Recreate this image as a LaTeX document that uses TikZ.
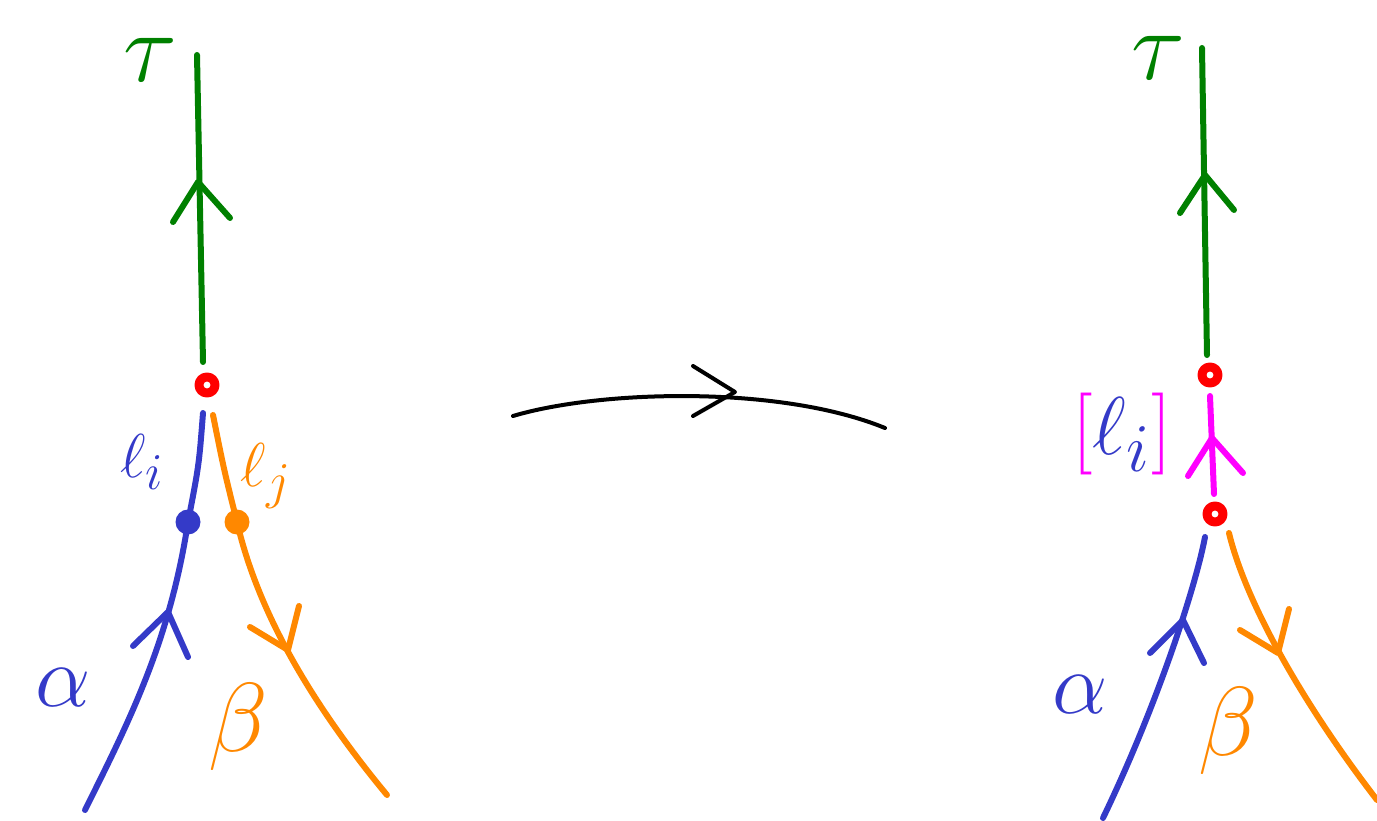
\documentclass[tikz,border=0pt]{standalone}
\definecolor{cblue}{RGB}{52,58,200}
\definecolor{corange}{RGB}{255,136,0}
\definecolor{cgreen}{RGB}{0,128,0}
\definecolor{cred}{RGB}{255,0,0}
\definecolor{cmag}{RGB}{255,0,255}
\begin{document}
\begin{tikzpicture}[x=1pt,y=-1pt,line cap=round,line join=round,
  stroke/.style={line width=6pt},
  ring/.style={circle,draw=cred,line width=9pt,fill=white,minimum size=16pt,inner sep=0pt},
  blob/.style={circle,fill=#1,minimum size=25pt,inner sep=0pt},
  lbl/.style={inner sep=0pt,font=\Huge,scale=#1/24.88}]
\useasboundingbox (0,0) rectangle (1377,821);

%% ---------- left-hand picture ----------
\coordinate (gTopL) at (197,55);
\coordinate (gBotL) at (203,362);
\coordinate (gTipL) at (198,182);
\draw[stroke,cgreen] (gBotL) -- (gTopL);
\draw[stroke,cgreen] (173,222) -- (gTipL) -- (230,218);

\node[ring] (vL) at (207,385) {};

\node[blob=cblue] (bdot) at (188,522) {};
\node[blob=corange] (odot) at (237,522) {};

\coordinate (bTopL) at (203,413);
\coordinate (bEndL) at (85,810);
\coordinate (bTipL) at (168,612);
\draw[stroke,cblue] (bTopL) .. controls (199,465) .. (bdot.center)
  .. controls (170,640) and (130,720) .. (bEndL);
\draw[stroke,cblue] (133,646) -- (bTipL) -- (188,657);

\coordinate (oTopL) at (213,415);
\coordinate (oEndL) at (387,795);
\coordinate (oTipL) at (288,650);
\draw[stroke,corange] (oTopL) .. controls (224,470) .. (odot.center)
  .. controls (255,600) and (300,690) .. (oEndL);
\draw[stroke,corange] (250,627) -- (oTipL) -- (299,606);

\node[lbl=100,text=cgreen] (tauL) at (150,60) {$\tau$};
\node[lbl=62,text=cblue] (liL) at (142,462) {$\ell_i$};
\node[lbl=62,text=corange] (ljL) at (266,476) {$\ell_j$};
\node[lbl=88,text=cblue] (alL) at (63,688) {$\alpha$};
\node[lbl=98,text=corange] (beL) at (238,727) {$\beta$};

%% ---------- the map between the two ----------
\coordinate (mS) at (513,416);
\coordinate (mE) at (885,428);
\coordinate (mTip) at (735,392);
\draw[line width=4pt,black] (mS) .. controls (600,390) and (780,385) .. (mE);
\draw[line width=4pt,black] (693,366) -- (mTip) -- (693,416);

%% ---------- right-hand picture ----------
\coordinate (gTopR) at (1202,48);
\coordinate (gBotR) at (1207,355);
\coordinate (gTipR) at (1205,175);
\draw[stroke,cgreen] (gBotR) -- (gTopR);
\draw[stroke,cgreen] (1180,213) -- (gTipR) -- (1234,210);

\node[ring] (vR1) at (1210,375) {};
\node[ring] (vR2) at (1215,514) {};

\coordinate (mTopR) at (1210,396);
\coordinate (mBotR) at (1214,494);
\coordinate (mTipR) at (1212,438);
\draw[stroke,cmag] (mBotR) -- (mTopR);
\draw[stroke,cmag] (1188,476) -- (mTipR) -- (1243,473);

\coordinate (bTopR) at (1205,537);
\coordinate (bEndR) at (1103,818);
\coordinate (bTipR) at (1183,620);
\draw[stroke,cblue] (bTopR) .. controls (1195,590) and (1155,710) .. (bEndR);
\draw[stroke,cblue] (1150,653) -- (bTipR) -- (1204,663);

\coordinate (oTopR) at (1229,533);
\coordinate (oEndR) at (1377,800);
\coordinate (oTipR) at (1278,653);
\draw[stroke,corange] (oTopR) .. controls (1245,600) and (1300,700) .. (oEndR);
\draw[stroke,corange] (1240,630) -- (oTipR) -- (1289,609);

\node[lbl=100,text=cgreen] (tauR) at (1158,58) {$\tau$};
\node[lbl=82] (liR) at (1122,434)
  {\textcolor{cmag}{[}\textcolor{cblue}{$\ell_i$}\textcolor{cmag}{]}};
\node[lbl=88,text=cblue] (alR) at (1080,695) {$\alpha$};
\node[lbl=98,text=corange] (beR) at (1228,731) {$\beta$};
\end{tikzpicture}
\end{document}
